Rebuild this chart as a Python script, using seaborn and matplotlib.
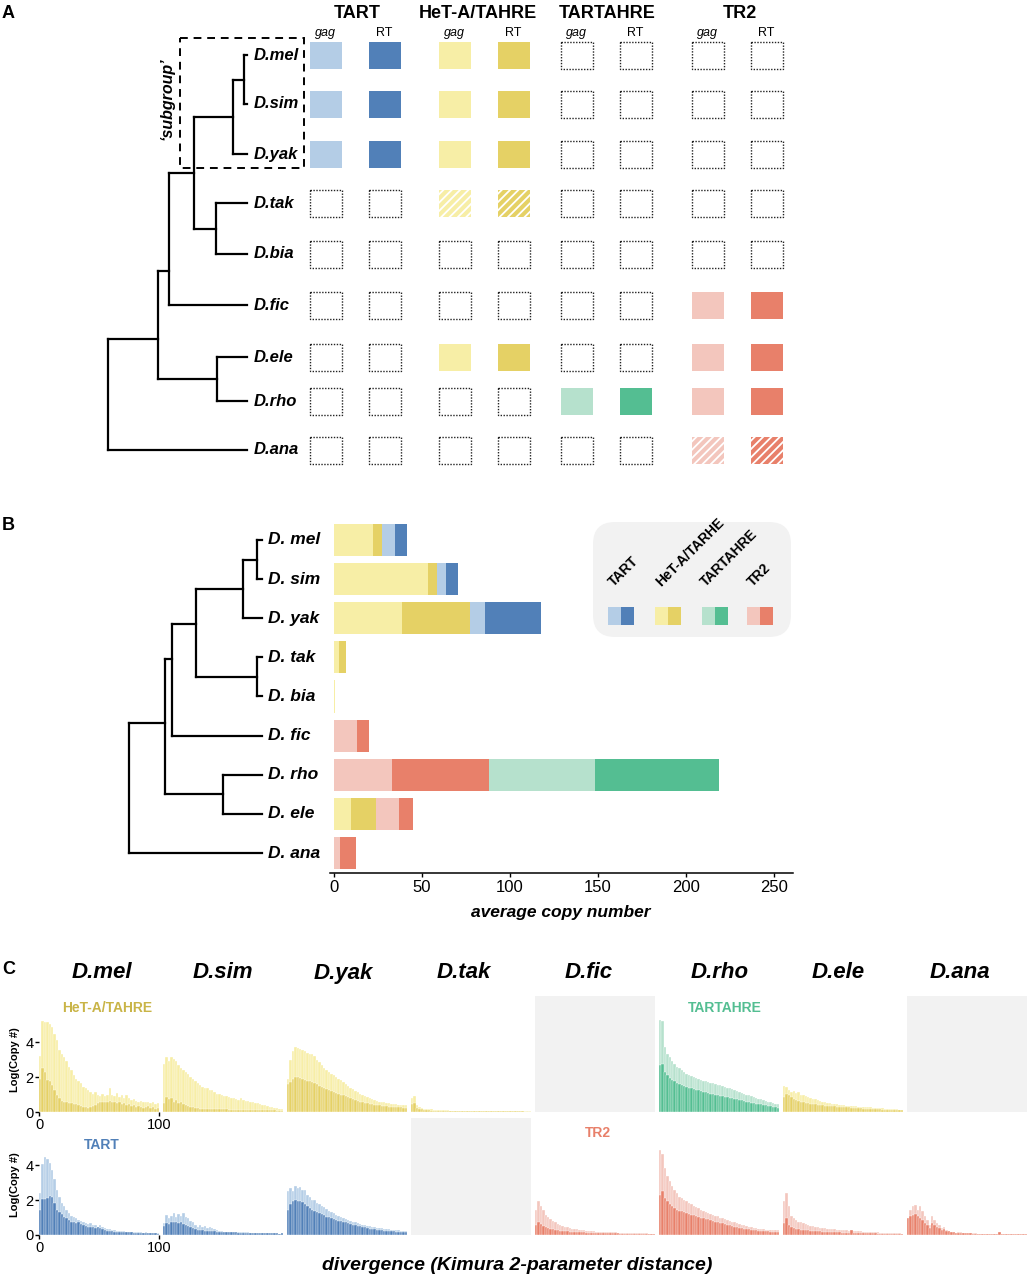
import numpy as np
import pandas as pd
import matplotlib
matplotlib.use('Agg')
import matplotlib.pyplot as plt
from matplotlib.patches import Rectangle, FancyBboxPatch
import seaborn as sns

sns.set_style('white')
plt.rcParams['font.family'] = ['Liberation Sans', 'DejaVu Sans']
plt.rcParams['hatch.linewidth'] = 1.3
plt.rcParams['text.color'] = 'black'
plt.rcParams['xtick.color'] = 'black'
plt.rcParams['ytick.color'] = 'black'
plt.rcParams['axes.labelcolor'] = 'black'

W, H = 1029, 1280

# colours (gag = light, RT = dark)
pal = {'tart': ('#b4cde6', '#5180b8'),
       'het': ('#f7eea6', '#e5d165'),
       'tartahre': ('#b6e1cd', '#54be92'),
       'tr2': ('#f3c6bd', '#e8806a')}
label_col = {'tart': '#5180b8', 'het': '#c9b447', 'tartahre': '#54be92', 'tr2': '#e8806a'}

# ---------------- panel A data: 0 absent, 1 present, 2 partial ----------------
species_a = ['D.mel', 'D.sim', 'D.yak', 'D.tak', 'D.bia', 'D.fic', 'D.ele', 'D.rho', 'D.ana']
tart_a = [1, 1, 1, 0, 0, 0, 0, 0, 0]
heta_a = [1, 1, 1, 2, 0, 0, 1, 0, 0]
tartahre_a = [0, 0, 0, 0, 0, 0, 0, 1, 0]
tr2_a = [0, 0, 0, 0, 0, 1, 1, 1, 2]

# ---------------- panel B data: average copy number ----------------
species_b = ['D. mel', 'D. sim', 'D. yak', 'D. tak', 'D. bia', 'D. fic', 'D. rho', 'D. ele', 'D. ana']
het_gag_b = [22, 53.5, 38.5, 3, 0.6, 0, 0, 9.7, 0]
het_rt_b = [5, 5, 38.5, 4, 0, 0, 0, 14.2, 0]
tr2_gag_b = [0, 0, 0, 0, 0, 13, 33, 13, 3.5]
tr2_rt_b = [0, 0, 0, 0, 0, 7, 55, 8, 9]
tartahre_gag_b = [0, 0, 0, 0, 0, 0, 60.2, 0, 0]
tartahre_rt_b = [0, 0, 0, 0, 0, 0, 70.5, 0, 0]
tart_gag_b = [7.4, 5, 9, 0, 0, 0, 0, 0, 0]
tart_rt_b = [6.8, 7, 31.8, 0, 0, 0, 0, 0, 0]

# ---------------- panel C data: log(copy #) per divergence bin ----------------
het_mel_gag = [3.2, 5.2, 5.15, 5.15, 5.05, 4.9, 4.5, 4.1, 3.55, 3.35,
               3.15, 2.9, 2.6, 2.4, 2.1, 1.9, 1.75, 1.65, 1.45, 1.35,
               1.25, 1.15, 1.05, 1.15, 1.0, 0.9, 1.05, 0.9, 1.0, 1.4,
               1.0, 0.9, 1.1, 0.85, 0.95, 0.8, 1.0, 0.8, 0.7, 0.75,
               0.65, 0.6, 0.65, 0.6, 0.55, 0.6, 0.5, 0.55, 0.45, 0.5]
het_mel_rt = [1.9, 2.5, 2.3, 1.85, 1.8, 1.55, 1.25, 1.0, 0.8, 0.65,
              0.6, 0.55, 0.5, 0.5, 0.45, 0.45, 0.4, 0.35, 0.3, 0.3,
              0.25, 0.3, 0.35, 0.4, 0.5, 0.55, 0.6, 0.55, 0.6, 0.65,
              0.55, 0.6, 0.5, 0.55, 0.45, 0.5, 0.4, 0.45, 0.35, 0.4,
              0.3, 0.35, 0.3, 0.25, 0.3, 0.35, 0.25, 0.3, 0.2, 0.25]
het_sim_gag = [2.75, 3.15, 2.9, 3.15, 3.05, 2.9, 2.7, 2.5, 2.4, 2.3,
               2.2, 2.0, 1.9, 1.75, 1.65, 1.55, 1.45, 1.4, 1.35, 1.25,
               1.25, 1.15, 1.05, 1.05, 0.95, 0.9, 0.9, 0.85, 0.8, 0.8,
               0.75, 0.7, 0.8, 0.7, 0.65, 0.65, 0.6, 0.55, 0.5, 0.5,
               0.45, 0.4, 0.4, 0.35, 0.3, 0.28, 0.25, 0.22, 0.2, 0.2]
het_sim_rt = [0.5, 0.85, 0.75, 0.8, 0.6, 0.7, 0.5, 0.55, 0.45, 0.4,
              0.35, 0.3, 0.3, 0.25, 0.25, 0.2, 0.2, 0.2, 0.18, 0.18,
              0.17, 0.17, 0.16, 0.16, 0.15, 0.15, 0.15, 0.14, 0.14, 0.14,
              0.13, 0.13, 0.13, 0.12, 0.12, 0.12, 0.12, 0.11, 0.11, 0.11,
              0.1, 0.1, 0.1, 0.1, 0.09, 0.09, 0.09, 0.08, 0.08, 0.08]
het_yak_gag = [1.9, 3.0, 3.5, 3.7, 3.65, 3.6, 3.55, 3.5, 3.4, 3.35,
               3.3, 3.2, 3.0, 2.85, 2.7, 2.55, 2.4, 2.3, 2.2, 2.1,
               2.0, 1.9, 1.85, 1.7, 1.6, 1.5, 1.4, 1.3, 1.2, 1.15,
               1.05, 1.0, 0.9, 0.85, 0.8, 0.75, 0.7, 0.65, 0.6, 0.58,
               0.55, 0.5, 0.5, 0.48, 0.45, 0.45, 0.42, 0.42, 0.4, 0.4]
het_yak_rt = [1.6, 1.7, 1.9, 2.0, 2.0, 1.95, 1.9, 1.85, 1.8, 1.75,
              1.7, 1.65, 1.6, 1.5, 1.45, 1.4, 1.3, 1.25, 1.2, 1.15,
              1.1, 1.05, 1.0, 0.95, 0.9, 0.85, 0.8, 0.75, 0.7, 0.65,
              0.6, 0.57, 0.54, 0.5, 0.47, 0.44, 0.42, 0.4, 0.38, 0.36,
              0.34, 0.32, 0.3, 0.3, 0.28, 0.28, 0.27, 0.26, 0.25, 0.25]
het_tak_gag = [0.8, 0.9, 0.4, 0.3, 0.25, 0.2, 0.2, 0.15, 0.15, 0.12,
               0.12, 0.1, 0.1, 0.1, 0.09, 0.09, 0.08, 0.08, 0.08, 0.07,
               0.07, 0.07, 0.06, 0.06, 0.06, 0.06, 0.05, 0.05, 0.05, 0.05,
               0.05, 0.05, 0.05, 0.05, 0.05, 0.05, 0.05, 0.05, 0.05, 0.05,
               0.06, 0.08, 0.06, 0.05, 0.05, 0.05, 0.05, 0.04, 0.04, 0.04]
het_tak_rt = [0.45, 0.5, 0.25, 0.2, 0.15, 0.12, 0.1, 0.1, 0.08, 0.08,
              0.07, 0.07, 0.06, 0.06, 0.05, 0.05, 0.05, 0.05, 0.04, 0.04,
              0.04, 0.04, 0.04, 0.04, 0.03, 0.03, 0.03, 0.03, 0.03, 0.03,
              0.03, 0.03, 0.03, 0.03, 0.03, 0.03, 0.03, 0.03, 0.03, 0.03,
              0.03, 0.03, 0.03, 0.03, 0.03, 0.03, 0.03, 0.02, 0.02, 0.02]
tartahre_rho_gag = [5.3, 5.2, 3.75, 3.35, 3.15, 2.95, 2.75, 2.6, 2.5, 2.4,
                    2.3, 2.2, 2.1, 2.05, 2.0, 1.95, 1.9, 1.85, 1.8, 1.76,
                    1.72, 1.68, 1.64, 1.6, 1.56, 1.52, 1.48, 1.44, 1.4, 1.35,
                    1.3, 1.25, 1.2, 1.15, 1.1, 1.05, 1.0, 0.95, 0.9, 0.85,
                    0.8, 0.76, 0.72, 0.68, 0.64, 0.6, 0.56, 0.52, 0.48, 0.44]
tartahre_rho_rt = [2.7, 2.75, 2.3, 2.1, 1.95, 1.85, 1.75, 1.68, 1.6, 1.55,
                   1.5, 1.45, 1.4, 1.36, 1.32, 1.28, 1.24, 1.2, 1.16, 1.12,
                   1.08, 1.05, 1.02, 0.99, 0.96, 0.93, 0.9, 0.87, 0.84, 0.81,
                   0.78, 0.75, 0.72, 0.69, 0.66, 0.63, 0.6, 0.57, 0.54, 0.51,
                   0.48, 0.46, 0.44, 0.42, 0.4, 0.37, 0.34, 0.31, 0.28, 0.25]
het_ele_gag = [1.5, 1.45, 1.25, 1.15, 1.2, 1.1, 1.15, 1.0, 0.95, 0.9,
               0.85, 0.82, 0.75, 0.72, 0.67, 0.63, 0.6, 0.55, 0.53, 0.5,
               0.48, 0.46, 0.44, 0.42, 0.4, 0.38, 0.36, 0.35, 0.34, 0.33,
               0.32, 0.31, 0.3, 0.29, 0.28, 0.27, 0.26, 0.25, 0.24, 0.23,
               0.22, 0.21, 0.2, 0.19, 0.18, 0.17, 0.16, 0.15, 0.14, 0.13]
het_ele_rt = [0.85, 1.05, 0.95, 0.85, 0.75, 0.7, 0.65, 0.6, 0.57, 0.53,
              0.5, 0.47, 0.45, 0.43, 0.41, 0.4, 0.38, 0.36, 0.35, 0.34,
              0.33, 0.32, 0.31, 0.3, 0.29, 0.28, 0.27, 0.26, 0.25, 0.24,
              0.23, 0.22, 0.21, 0.2, 0.2, 0.19, 0.18, 0.17, 0.16, 0.15,
              0.15, 0.14, 0.13, 0.13, 0.12, 0.12, 0.11, 0.11, 0.1, 0.1]
tart_mel_gag = [2.4, 4.05, 4.45, 4.35, 4.15, 3.75, 3.2, 2.6, 2.2, 1.85,
                1.65, 1.45, 1.25, 1.1, 1.02, 0.97, 0.87, 0.8, 0.73, 0.68,
                0.64, 0.68, 0.6, 0.56, 0.48, 0.58, 0.44, 0.4, 0.35, 0.37,
                0.3, 0.27, 0.25, 0.23, 0.23, 0.21, 0.2, 0.2, 0.18, 0.17,
                0.16, 0.18, 0.15, 0.14, 0.15, 0.13, 0.12, 0.11, 0.1, 0.1]
tart_mel_rt = [1.45, 2.05, 2.05, 2.1, 2.25, 2.2, 1.85, 1.45, 1.3, 1.2,
               1.05, 0.97, 0.87, 0.77, 0.73, 0.68, 0.77, 0.64, 0.58, 0.52,
               0.48, 0.44, 0.48, 0.4, 0.44, 0.38, 0.33, 0.29, 0.25, 0.25,
               0.21, 0.2, 0.19, 0.18, 0.17, 0.17, 0.16, 0.15, 0.15, 0.14,
               0.14, 0.13, 0.13, 0.12, 0.12, 0.11, 0.1, 0.1, 0.09, 0.08]
tart_sim_gag = [0.68, 1.15, 0.97, 1.1, 1.25, 1.05, 1.2, 1.1, 1.25, 1.02,
                0.97, 0.83, 0.77, 0.58, 0.48, 0.58, 0.44, 0.52, 0.38, 0.48,
                0.38, 0.33, 0.29, 0.25, 0.21, 0.2, 0.19, 0.19, 0.18, 0.18,
                0.17, 0.17, 0.16, 0.16, 0.15, 0.15, 0.14, 0.14, 0.13, 0.13,
                0.12, 0.12, 0.11, 0.11, 0.1, 0.1, 0.09, 0.09, 0.08, 0.08]
tart_sim_rt = [0.52, 0.68, 0.64, 0.72, 0.77, 0.73, 0.68, 0.72, 0.64, 0.58,
               0.52, 0.44, 0.38, 0.33, 0.29, 0.27, 0.26, 0.25, 0.24, 0.23,
               0.22, 0.21, 0.2, 0.19, 0.18, 0.17, 0.17, 0.16, 0.16, 0.15,
               0.15, 0.14, 0.14, 0.13, 0.13, 0.12, 0.12, 0.12, 0.11, 0.11,
               0.11, 0.1, 0.1, 0.1, 0.1, 0.09, 0.09, 0.09, 0.08, 0.1]
tart_yak_gag = [2.5, 2.7, 2.5, 2.8, 2.7, 2.75, 2.6, 2.55, 2.3, 2.2,
                2.0, 2.0, 1.85, 1.78, 1.65, 1.6, 1.5, 1.4, 1.33, 1.25,
                1.15, 1.1, 1.02, 0.97, 0.9, 0.87, 0.8, 0.77, 0.73, 0.68,
                0.64, 0.6, 0.58, 0.54, 0.5, 0.48, 0.44, 0.42, 0.4, 0.38,
                0.37, 0.35, 0.33, 0.31, 0.29, 0.27, 0.27, 0.25, 0.25, 0.23]
tart_yak_rt = [1.45, 1.75, 1.95, 2.0, 1.97, 1.95, 1.9, 1.8, 1.65, 1.55,
               1.45, 1.4, 1.33, 1.25, 1.2, 1.15, 1.05, 1.02, 0.97, 0.9,
               0.87, 0.83, 0.8, 0.75, 0.72, 0.68, 0.64, 0.6, 0.58, 0.54,
               0.5, 0.46, 0.43, 0.4, 0.37, 0.35, 0.33, 0.31, 0.29, 0.27,
               0.25, 0.24, 0.23, 0.22, 0.21, 0.2, 0.19, 0.19, 0.18, 0.18]
tr2_fic_gag = [1.45, 1.95, 1.65, 1.45, 1.15, 1.02, 0.9, 0.8, 0.72, 0.64,
               0.58, 0.54, 0.48, 0.44, 0.4, 0.37, 0.35, 0.33, 0.31, 0.29,
               0.27, 0.25, 0.23, 0.23, 0.21, 0.2, 0.19, 0.19, 0.18, 0.17,
               0.17, 0.16, 0.15, 0.15, 0.14, 0.14, 0.13, 0.13, 0.12, 0.12,
               0.11, 0.11, 0.1, 0.1, 0.09, 0.09, 0.09, 0.08, 0.08, 0.08]
tr2_fic_rt = [0.58, 0.72, 0.64, 0.52, 0.44, 0.38, 0.35, 0.33, 0.29, 0.27,
              0.25, 0.23, 0.22, 0.21, 0.2, 0.19, 0.18, 0.17, 0.16, 0.15,
              0.15, 0.14, 0.14, 0.13, 0.13, 0.12, 0.12, 0.11, 0.11, 0.1,
              0.1, 0.1, 0.09, 0.09, 0.09, 0.08, 0.08, 0.08, 0.08, 0.07,
              0.07, 0.07, 0.07, 0.06, 0.06, 0.06, 0.06, 0.06, 0.06, 0.06]
tr2_rho_gag = [4.85, 4.65, 3.85, 3.4, 3.1, 2.8, 2.6, 2.4, 2.2, 2.1,
               2.0, 1.93, 1.85, 1.75, 1.65, 1.58, 1.52, 1.45, 1.4, 1.33,
               1.28, 1.22, 1.16, 1.1, 1.06, 1.0, 0.95, 0.9, 0.85, 0.81,
               0.75, 0.72, 0.68, 0.64, 0.6, 0.56, 0.52, 0.48, 0.44, 0.42,
               0.39, 0.37, 0.35, 0.33, 0.31, 0.31, 0.29, 0.29, 0.27, 0.27]
tr2_rho_rt = [2.3, 2.5, 2.1, 1.93, 1.78, 1.65, 1.55, 1.45, 1.4, 1.35,
              1.3, 1.25, 1.22, 1.16, 1.12, 1.08, 1.04, 1.0, 0.97, 0.93,
              0.89, 0.85, 0.81, 0.77, 0.73, 0.7, 0.66, 0.62, 0.58, 0.56,
              0.5, 0.47, 0.44, 0.41, 0.38, 0.36, 0.34, 0.32, 0.3, 0.28,
              0.26, 0.25, 0.24, 0.23, 0.22, 0.21, 0.2, 0.2, 0.19, 0.19]
tr2_ele_gag = [1.93, 2.4, 1.65, 1.06, 0.97, 0.87, 0.77, 0.72, 0.68, 0.62,
               0.58, 0.54, 0.5, 0.48, 0.44, 0.42, 0.4, 0.39, 0.37, 0.35,
               0.33, 0.33, 0.31, 0.29, 0.29, 0.27, 0.26, 0.25, 0.3, 0.24,
               0.23, 0.22, 0.21, 0.2, 0.19, 0.18, 0.17, 0.16, 0.16, 0.15,
               0.14, 0.13, 0.13, 0.12, 0.11, 0.11, 0.1, 0.1, 0.09, 0.08]
tr2_ele_rt = [0.68, 0.97, 0.58, 0.44, 0.39, 0.35, 0.33, 0.31, 0.29, 0.27,
              0.26, 0.25, 0.24, 0.23, 0.22, 0.21, 0.2, 0.19, 0.18, 0.17,
              0.16, 0.16, 0.15, 0.15, 0.14, 0.14, 0.13, 0.13, 0.3, 0.12,
              0.12, 0.11, 0.11, 0.1, 0.1, 0.1, 0.09, 0.09, 0.09, 0.08,
              0.08, 0.08, 0.07, 0.07, 0.07, 0.07, 0.06, 0.06, 0.06, 0.06]
tr2_ana_gag = [0.87, 1.45, 1.65, 1.7, 1.45, 1.65, 1.35, 1.06, 0.87, 0.58,
               1.06, 0.87, 0.68, 0.58, 0.39, 0.48, 0.29, 0.25, 0.19, 0.15,
               0.14, 0.17, 0.15, 0.14, 0.12, 0.1, 0.1, 0.09, 0.09, 0.08,
               0.08, 0.08, 0.07, 0.07, 0.07, 0.07, 0.06, 0.06, 0.2, 0.06,
               0.06, 0.05, 0.05, 0.05, 0.05, 0.05, 0.05, 0.05, 0.05, 0.05]
tr2_ana_rt = [0.97, 1.06, 1.16, 1.22, 1.06, 0.97, 0.87, 0.68, 0.58, 0.39,
              0.68, 0.58, 0.48, 0.39, 0.29, 0.33, 0.25, 0.21, 0.17, 0.15,
              0.14, 0.12, 0.11, 0.1, 0.1, 0.09, 0.09, 0.08, 0.08, 0.07,
              0.07, 0.07, 0.06, 0.06, 0.06, 0.06, 0.05, 0.05, 0.15, 0.05,
              0.05, 0.04, 0.04, 0.04, 0.04, 0.04, 0.04, 0.04, 0.04, 0.04]

species_c = ['D.mel', 'D.sim', 'D.yak', 'D.tak', 'D.fic', 'D.rho', 'D.ele', 'D.ana']
top_row = [('het', het_mel_gag, het_mel_rt), ('het', het_sim_gag, het_sim_rt),
           ('het', het_yak_gag, het_yak_rt), ('het', het_tak_gag, het_tak_rt),
           None, ('tartahre', tartahre_rho_gag, tartahre_rho_rt),
           ('het', het_ele_gag, het_ele_rt), None]
bottom_row = [('tart', tart_mel_gag, tart_mel_rt), ('tart', tart_sim_gag, tart_sim_rt),
              ('tart', tart_yak_gag, tart_yak_rt), None,
              ('tr2', tr2_fic_gag, tr2_fic_rt), ('tr2', tr2_rho_gag, tr2_rho_rt),
              ('tr2', tr2_ele_gag, tr2_ele_rt), ('tr2', tr2_ana_gag, tr2_ana_rt)]

# trees: (node depth in px, children, optional attach y)
tree_a = (108, [(158, [(169, [(194, [(233, [(244, ['D.mel', 'D.sim']), 'D.yak']),
                                     (216, ['D.tak', 'D.bia'])]), 'D.fic'], 271),
                       (217, ['D.ele', 'D.rho'])], 339), 'D.ana'])
tree_b = (129, [(165, [(172, [(196, [(243, [(257, ['D. mel', 'D. sim']), 'D. yak']),
                                     (257, ['D. tak', 'D. bia'])], 624), 'D. fic'], 659),
                       (223, ['D. rho', 'D. ele'])], 723), 'D. ana'])

# ---------------- figure ----------------
fig = plt.figure(figsize=(W / 100, H / 100), dpi=100)
ov = fig.add_axes([0, 0, 1, 1])
ov.set_xlim(0, W)
ov.set_ylim(H, 0)
ov.axis('off')


def px_axes(x0, y0, x1, y1):
    return fig.add_axes([x0 / W, 1 - y1 / H, (x1 - x0) / W, (y1 - y0) / H])


def draw_tree(node, tip_y, tip_x):
    if isinstance(node, str):
        return tip_x, tip_y[node]
    x, children = node[0], node[1]
    ys = []
    for ch in children:
        cx, cy = draw_tree(ch, tip_y, tip_x)
        ov.plot([x, cx], [cy, cy], color='black', lw=1.6, solid_capstyle='projecting')
        ys.append(cy)
    ov.plot([x, x], [min(ys), max(ys)], color='black', lw=1.6, solid_capstyle='projecting')
    y = node[2] if len(node) > 2 else (min(ys) + max(ys)) / 2
    return x, y


for letter, y in [('A', 14), ('B', 526), ('C', 970)]:
    ov.text(2, y, letter, fontsize=13, fontweight='bold', ha='left', va='center')

# ---------------- panel A ----------------
row_y_a = [55, 104, 154, 203, 254, 305, 357, 401, 450]
fam_a = [('TART', tart_a, 'tart'), ('HeT-A/TAHRE', heta_a, 'het'),
         ('TARTAHRE', tartahre_a, 'tartahre'), ('TR2', tr2_a, 'tr2')]
fam_x = [355, 484, 606, 737]
header_x = [357, 478, 607, 740]
sq_w, sq_h = 32, 27
for (name, status, key), fx, hx in zip(fam_a, fam_x, header_x):
    ov.text(hx, 13, name, ha='center', va='center', fontsize=13, fontweight='bold')
    for j, part in enumerate(['gag', 'RT']):
        cx = fx + (2 * j - 1) * 29.5
        ov.text(cx, 33, part, ha='center', va='center', fontsize=9,
                style='italic' if part == 'gag' else 'normal')
        color = pal[key][j]
        for r, st in enumerate(status):
            xy = (cx - sq_w / 2, row_y_a[r] - sq_h / 2)
            if st == 0:
                rect = Rectangle(xy, sq_w, sq_h, fill=False, ec='#222222', lw=1.0, ls=(0, (1, 1.1)))
            elif st == 1:
                rect = Rectangle(xy, sq_w, sq_h, fc=color, ec='none', lw=0)
            else:
                rect = Rectangle(xy, sq_w, sq_h, fc=color, ec='white', lw=0, hatch='////')
            ov.add_patch(rect)

for name, y in zip(species_a, row_y_a):
    ov.text(254, y, name, ha='left', va='center', fontsize=12, fontweight='bold', style='italic')
draw_tree(tree_a, dict(zip(species_a, row_y_a)), 247)
ov.add_patch(Rectangle((180, 38), 124, 130, fill=False, ec='black', lw=1.4, ls=(0, (4, 3))))
ov.text(167, 99, '\u2018subgroup\u2019', rotation=90, ha='center', va='center',
        fontsize=11.5, fontweight='bold', style='italic')

# ---------------- panel B ----------------
segments = [('het', 0, het_gag_b), ('het', 1, het_rt_b), ('tr2', 0, tr2_gag_b), ('tr2', 1, tr2_rt_b),
            ('tartahre', 0, tartahre_gag_b), ('tartahre', 1, tartahre_rt_b),
            ('tart', 0, tart_gag_b), ('tart', 1, tart_rt_b)]
df_b = pd.DataFrame({'species': species_b})
cum = np.zeros(len(species_b))
cums = []
for key, j, vals in segments:
    cum = cum + np.array(vals, dtype=float)
    cums.append((key, j, cum.copy()))

axb = px_axes(330, 520.4, 793, 872.6)
for key, j, c in reversed(cums):
    df_b['cum'] = c
    sns.barplot(data=df_b, x='cum', y='species', order=species_b, orient='h',
                color=pal[key][j], saturation=1, width=0.82, errorbar=None,
                linewidth=0, ax=axb)
axb.set_xlim(-2.27, 260.8)
axb.set_ylim(8.5, -0.5)
axb.set_yticks([])
axb.set_xlabel('')
axb.set_ylabel('')
axb.set_xticks([0, 50, 100, 150, 200, 250])
axb.tick_params(axis='x', bottom=True, length=3, width=1, color='black', labelsize=12, pad=2)
sns.despine(ax=axb, left=True)
axb.spines['bottom'].set_color('black')
axb.spines['bottom'].set_linewidth(1.1)
axb.patch.set_alpha(0)
ov.text(561, 912, 'average copy number', ha='center', va='center', fontsize=12.5,
        fontweight='bold', style='italic')

tip_y_b = {}
for i, name in enumerate(species_b):
    tip_y_b[name] = ov.transData.inverted().transform(axb.transData.transform((0, i)))[1]
    ov.text(268, tip_y_b[name], name, ha='left', va='center', fontsize=12.5,
            fontweight='bold', style='italic')
draw_tree(tree_b, tip_y_b, 262)

# legend box
ov.add_patch(FancyBboxPatch((593, 522), 198, 115, boxstyle='round,pad=0,rounding_size=22',
                            fc='#f2f2f2', ec='none'))
leg = [('TART', 'tart', 608, 614), ('HeT-A/TARHE', 'het', 655, 661),
       ('TARTAHRE', 'tartahre', 702, 706), ('TR2', 'tr2', 747, 753)]
for text, key, sx, tx in leg:
    ov.add_patch(Rectangle((sx, 607), 13, 18, fc=pal[key][0], ec='none'))
    ov.add_patch(Rectangle((sx + 13, 607), 13, 18, fc=pal[key][1], ec='none'))
    ov.text(tx, 587, text, rotation=45, rotation_mode='anchor', ha='left', va='baseline',
            fontsize=10, fontweight='bold')

# ---------------- panel C ----------------
col_x0 = [39 + 124 * i for i in range(len(species_c))]
title_x = [102, 223, 343, 464, 589, 720, 838, 960]
for i, (name, x0) in enumerate(zip(species_c, col_x0)):
    ov.text(title_x[i], 973, name, ha='center', va='center', fontsize=16,
            fontweight='bold', style='italic')
    for row, (y0, y1, top) in zip([top_row, bottom_row], [(996, 1112, 6.65), (1118, 1235, 6.7)]):
        ax = px_axes(x0, y0, x0 + 120, y1)
        entry = row[i]
        if entry is None:
            ax.set_facecolor('#f2f2f2')
        else:
            key, gag, rt = entry
            edges = list(np.linspace(0, 100, len(gag) + 1))
            centers = [(a + b) / 2 for a, b in zip(edges[:-1], edges[1:])]
            hist_df = pd.DataFrame({'divergence': centers, 'gag': gag, 'rt': rt})
            sns.histplot(data=hist_df, x='divergence', weights='gag', bins=edges,
                         color=pal[key][0], alpha=1, edgecolor='white', linewidth=0.25, ax=ax)
            sns.histplot(data=hist_df, x='divergence', weights='rt', bins=edges,
                         color=pal[key][1], alpha=1, edgecolor='white', linewidth=0.25, ax=ax)
            ax.set_facecolor('none')
        ax.set_xlim(0, 100)
        ax.set_ylim(0, top)
        ax.set_xlabel('')
        ax.set_ylabel('')
        for s in ax.spines.values():
            s.set_visible(False)
        if i == 0:
            ax.set_xticks([0, 100])
            ax.set_yticks([0, 2, 4])
            ax.tick_params(axis='both', bottom=True, left=True, length=3, width=1,
                           color='black', labelsize=10.5, pad=1)
        else:
            ax.set_xticks([])
            ax.set_yticks([])

for y in [1060, 1185]:
    ov.text(15, y, 'Log(Copy #)', rotation=90, ha='center', va='center', fontsize=8, fontweight='bold')
ov.text(107, 1008, 'HeT-A/TAHRE', color=label_col['het'], ha='center', va='center',
        fontsize=10, fontweight='bold')
ov.text(725, 1008, 'TARTAHRE', color=label_col['tartahre'], ha='center', va='center',
        fontsize=10, fontweight='bold')
ov.text(102, 1145, 'TART', color=label_col['tart'], ha='center', va='center',
        fontsize=10, fontweight='bold')
ov.text(598, 1133, 'TR2', color=label_col['tr2'], ha='center', va='center',
        fontsize=10, fontweight='bold')
ov.text(517, 1266, 'divergence (Kimura 2-parameter distance)', ha='center', va='center',
        fontsize=14, fontweight='bold', style='italic')

fig.savefig('out.png', dpi=100)
